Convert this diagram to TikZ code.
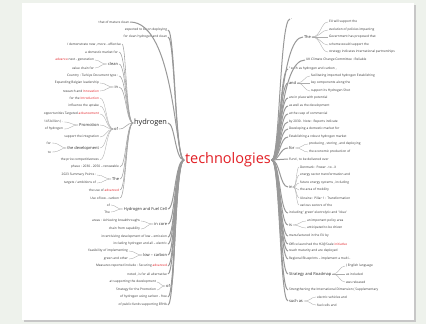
\documentclass[tikz,border=0pt]{standalone}
\usepackage{fontspec}
\setmainfont{Open Sans}
\usetikzlibrary{calc}
\definecolor{wred}{RGB}{226,30,36}
\definecolor{outbg}{RGB}{238,242,236}
\newcommand{\Hi}[1]{\textcolor{wred}{#1}}
\newcommand{\Lk}[3][7]{\draw[link] (#2.west) .. controls +(-#1,0) and ($(#3.east -| #2.west)+(-#1,0)$) .. (#3.east);}
\newcommand{\Rk}[3][7]{\draw[link] (#2.east) .. controls +(#1,0) and ($(#3.west -| #2.east)+(#1,0)$) .. (#3.west);}

\begin{document}
\begin{tikzpicture}[x=1pt,y=-1pt,
    leaf/.style={font=\fontsize{3.2}{3.8}\selectfont,inner sep=0.8pt,text=black!78},
    mid/.style={font=\fontsize{4}{4.8}\selectfont,inner sep=0.8pt,text=black!82},
    L/.style={anchor=east}, R/.style={anchor=west},
    link/.style={draw=gray!65,line width=0.35pt},
    trunk/.style={link/.append style={draw=gray!80,line width=1pt}}]
    \useasboundingbox (0,0) rectangle (426,324);
    \fill[outbg] (0,0) rectangle (426,324);
    \fill[black!22] (24,5) rectangle (416,322);
    \fill[white] (22,3) rectangle (414,320);

    \node[R,inner sep=0.8pt,font=\fontsize{14.5}{16}\selectfont,text=wred] (tech) at (184,160) {technologies};

    \node[leaf,L] (a1) at (130,22) {that of mature clean};
    \node[leaf,L] (a2) at (168,30) {expected to be on deploying};
    \node[leaf,L] (a3) at (168,37) {for clean hydrogen and clean};
    \node[L,inner sep=0.8pt,font=\fontsize{7.4}{8.5}\selectfont,text=black!85] (hyd) at (168,123) {hydrogen};
    \node[mid,L] (hfc) at (168,209) {Hydrogen and Fuel Cell};
    \node[mid,L] (core) at (168,224) {in core};
    \node[leaf,L] (a4) at (168,237) {incentivizing development of low – emission};
    \node[leaf,L] (a5) at (168,244) {including hydrogen and all – electric};
    \node[mid,L] (lowc) at (168,255) {low – carbon};
    \node[leaf,L] (a6) at (168,266) {Measures reported include : Securing \Hi{advanced}};
    \node[leaf,L] (a7) at (168,274) {noted , is for all alternative};
    \node[mid,L] (ofB) at (171,286) {of};
    \node[leaf,L] (a8) at (168,297) {of hydrogen using carbon - free};
    \node[leaf,L] (a9) at (168,305) {of public funds supporting ERHA};

    \node[leaf,L] (b1) at (122,44) {/ demonstrate new , more - effective};
    \node[leaf,L] (b2) at (119,52) {a domestic market for};
    \node[mid,L] (clean) at (119,64) {clean};
    \node[leaf,L] (b3) at (119,76) {Country : Turkiye Document type :};
    \node[mid,L] (inA) at (119,87) {in};
    \node[mid,L] (ofA) at (119,129) {of};
    \node[leaf,L] (b4) at (120,167) {phase : 2030 - 2050 – renewable};
    \node[mid,L] (theA) at (120,179) {The};
    \node[leaf,L] (b5) at (120,190) {the use of \Hi{advanced}};
    \node[leaf,L] (b6) at (120,198) {Use of low - carbon};

    \node[leaf,L] (c1) at (95,60) {\Hi{advance} next - generation};
    \node[leaf,L] (c2) at (95,68) {value chain for};
    \node[leaf,L] (d1) at (100,83) {Expanding Belgian leadership};
    \node[leaf,L] (d2) at (100,91) {research and \Hi{Innovation}};
    \node[leaf,L] (e1) at (100,98) {for the \Hi{Introduction}};
    \node[leaf,L] (e2) at (100,106) {influence the uptake};
    \node[leaf,L] (e3) at (100,114) {opportunities Targeted \Hi{advancement}};
    \node[mid,L] (prom) at (100,125) {Promotion};
    \node[leaf,L] (e4) at (100,137) {support the integration};
    \node[mid,L] (dev) at (100,148) {the development};
    \node[leaf,L] (e5) at (100,160) {the price competitiveness};
    \node[leaf,L] (f1) at (64,122) {145 billion ) .};
    \node[leaf,L] (f2) at (64,129) {of hydrogen};
    \node[leaf,L] (g1) at (52,143) {for};
    \node[leaf,L] (g2) at (52,152) {to};
    \node[leaf,L] (h1) at (97,175) {2023 Summary Points :};
    \node[leaf,L] (h2) at (97,183) {targets / ambitions of};
    \node[leaf,L] (i1) at (111,205) {of};
    \node[leaf,L] (i2) at (111,212) {The};
    \node[leaf,L] (j1) at (141,221) {areas : Achieving breakthroughs};
    \node[leaf,L] (j2) at (141,229) {chain from capability};
    \node[leaf,L] (k1) at (129,251) {feasibility of implementing};
    \node[leaf,L] (k2) at (129,259) {green and other};
    \node[leaf,L] (m1) at (157,282) {at supporting the development};
    \node[leaf,L] (m2) at (157,290) {Strategy for the Promotion};

    \node[leaf,R] (n1) at (290,19) {-};
    \node[mid,R] (theB) at (303,37) {The};
    \node[leaf,R] (n2) at (305,60) {UK Climate Change Committee : Reliable};
    \node[leaf,R] (n3) at (288,69) {" such as hydrogen and carbon ,};
    \node[mid,R] (andB) at (288,83) {and};
    \node[leaf,R] (n4) at (288,98) {are in place with potential};
    \node[leaf,R] (n5) at (288,106) {as well as the development};
    \node[leaf,R] (n6) at (288,114) {at the cusp of commercial};
    \node[leaf,R] (n7) at (288,122) {by 2030 . Note : Reports indicate};
    \node[leaf,R] (n8) at (288,129) {Developing a domestic market for};
    \node[leaf,R] (n9) at (288,137) {Establishing a robust hydrogen market};
    \node[mid,R] (forB) at (288,148) {for};
    \node[leaf,R] (n10) at (288,159) {Fund , to be delivered over};
    \node[mid,R] (inB) at (288,187) {in};
    \node[leaf,R] (n11) at (288,213) {including ' green' electrolytic and ' blue'};
    \node[mid,R] (isB) at (288,225) {is};
    \node[leaf,R] (n12) at (288,236) {manufactured in the EU by};
    \node[leaf,R] (n13) at (288,244) {Office launched the H2@Scale \Hi{initiative}};
    \node[leaf,R] (n14) at (288,251) {reach maturity and are deployed};
    \node[leaf,R] (n15) at (288,259) {Regional Blueprints – implement a multi -};
    \node[mid,R] (sar) at (288,274) {Strategy and Roadmap};
    \node[leaf,R] (n16) at (288,290) {Strengthening the International Dimension ( Supplementary};
    \node[mid,R] (such) at (288,301) {such as};

    \node[leaf,R] (p1) at (328,22) {EU will support the};
    \node[leaf,R] (p2) at (328,30) {evolution of policies impacting};
    \node[leaf,R] (p3) at (328,37) {Government has proposed that};
    \node[leaf,R] (p4) at (328,45) {scheme would support the};
    \node[leaf,R] (p5) at (328,52) {strategy indicates international partnerships};
    \node[leaf,R] (q1) at (310,76) {facilitating imported hydrogen Establishing};
    \node[leaf,R] (q2) at (310,83) {key components along the};
    \node[leaf,R] (q3) at (310,91) {support its Hydrogen Shot};
    \node[leaf,R] (s1) at (308,144) {producing , storing , and deploying};
    \node[leaf,R] (s2) at (308,152) {the economic production of};
    \node[leaf,R] (t1) at (299,167) {Denmark : Power - to - X};
    \node[leaf,R] (t2) at (299,175) {energy sector transformation and};
    \node[leaf,R] (t3) at (299,183) {future energy systems , including};
    \node[leaf,R] (t4) at (299,190) {the area of mobility};
    \node[leaf,R] (t5) at (299,198) {Ukraine : Pillar 1 : Transformation};
    \node[leaf,R] (t6) at (299,205) {various sectors of the};
    \node[leaf,R] (u1) at (306,221) {an important policy area};
    \node[leaf,R] (u2) at (306,228) {anticipated to be driven};
    \node[leaf,R] (v1) at (345,266) {( English language};
    \node[leaf,R] (v2) at (345,274) {as included};
    \node[leaf,R] (v3) at (345,282) {was released};
    \node[leaf,R] (w1) at (316,297) {electric vehicles and};
    \node[leaf,R] (w2) at (316,305) {fuel cells and};

    \begin{scope}[trunk]
        \foreach \c in {a1,a2,a3,hyd,hfc,core,a4,a5,lowc,a6,a7,ofB,a8,a9} {\Lk[9]{tech}{\c}}
        \foreach \c in {n1,theB,n2,n3,andB,n4,n5,n6,n7,n8,n9,forB,n10,inB,n11,isB,n12,n13,n14,n15,sar,n16,such} {\Rk[8]{tech}{\c}}
    \end{scope}
    \begin{scope}[link/.append style={line width=0.55pt,draw=gray!72}]
        \foreach \c in {b1,b2,clean,b3,inA,ofA,b4,theA,b5,b6} {\Lk{hyd}{\c}}
    \end{scope}
    \foreach \c in {c1,c2} {\Lk{clean}{\c}}
    \foreach \c in {d1,d2} {\Lk{inA}{\c}}
    \foreach \c in {e1,e2,e3,prom,e4,dev,e5} {\Lk{ofA}{\c}}
    \foreach \c in {f1,f2} {\Lk{prom}{\c}}
    \foreach \c in {g1,g2} {\Lk[6]{dev}{\c}}
    \foreach \c in {h1,h2} {\Lk{theA}{\c}}
    \foreach \c in {i1,i2} {\Lk{hfc}{\c}}
    \foreach \c in {j1,j2} {\Lk{core}{\c}}
    \foreach \c in {k1,k2} {\Lk{lowc}{\c}}
    \foreach \c in {m1,m2} {\Lk[5]{ofB}{\c}}
    \foreach \c in {p1,p2,p3,p4,p5} {\Rk[9]{theB}{\c}}
    \foreach \c in {q1,q2,q3} {\Rk{andB}{\c}}
    \foreach \c in {s1,s2} {\Rk{forB}{\c}}
    \foreach \c in {t1,t2,t3,t4,t5,t6} {\Rk[3]{inB}{\c}}
    \foreach \c in {u1,u2} {\Rk{isB}{\c}}
    \foreach \c in {v1,v2,v3} {\Rk{sar}{\c}}
    \foreach \c in {w1,w2} {\Rk{such}{\c}}
\end{tikzpicture}
\end{document}
